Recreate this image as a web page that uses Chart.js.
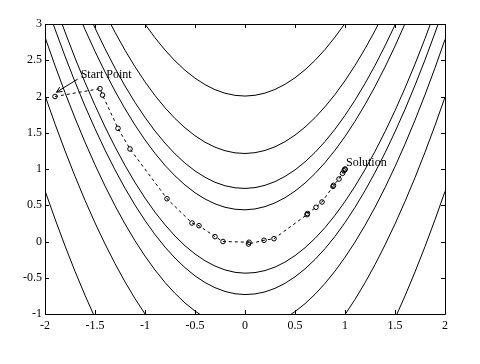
<!DOCTYPE html>
<html>
<head>
<meta charset="utf-8">
<script src="https://cdn.jsdelivr.net/npm/chart.js@4.4.1/dist/chart.umd.min.js"></script>
<style>
html,body{margin:0;padding:0;background:#fff;}
canvas{display:block;}
</style>
</head>
<body>
<canvas id="c" width="480" height="364"></canvas>
<script>
// x positions at which the contour curves were read
const xGrid = [-2,-1.9,-1.8,-1.7,-1.6,-1.5,-1.4,-1.3,-1.2,-1.1,-1,-0.9,-0.8,-0.7,-0.6,-0.5,-0.4,-0.3,-0.2,-0.1,0,0.1,0.2,0.3,0.4,0.5,0.6,0.7,0.8,0.9,1,1.1,1.2,1.3,1.4,1.5,1.6,1.7,1.8,1.9,2];

// contour curves (y values at xGrid), levels e^3 ... e^7
const c3Upper = [4.333,3.952,3.590,3.248,2.925,2.622,2.339,2.075,1.831,1.606,1.401,1.216,1.050,0.905,0.779,0.672,0.586,0.519,0.472,0.445,0.437,0.449,0.481,0.533,0.604,0.695,0.806,0.937,1.088,1.258,1.448,1.658,1.888,2.137,2.406,2.695,3.004,3.333,3.681,4.049,4.437];
const c3Lower = [3.667,3.268,2.890,2.532,2.195,1.878,1.581,1.305,1.049,0.814,0.599,0.404,0.230,0.075,-0.059,-0.172,-0.266,-0.339,-0.392,-0.425,-0.437,-0.429,-0.401,-0.353,-0.284,-0.195,-0.086,0.043,0.192,0.362,0.552,0.762,0.992,1.243,1.514,1.805,2.116,2.447,2.799,3.171,3.563];
const c4Upper = [4.675,4.290,3.924,3.578,3.252,2.945,2.659,2.392,2.145,1.918,1.711,1.524,1.357,1.209,1.081,0.974,0.886,0.817,0.769,0.741,0.732,0.743,0.775,0.826,0.897,0.987,1.098,1.228,1.379,1.549,1.739,1.949,2.179,2.428,2.698,2.987,3.297,3.626,3.975,4.343,4.732];
const c4Lower = [3.325,2.930,2.556,2.202,1.868,1.555,1.261,0.988,0.735,0.502,0.289,0.096,-0.077,-0.229,-0.361,-0.474,-0.566,-0.637,-0.689,-0.721,-0.732,-0.723,-0.695,-0.646,-0.577,-0.487,-0.378,-0.248,-0.099,0.071,0.261,0.471,0.701,0.952,1.222,1.513,1.823,2.154,2.505,2.877,3.268];
const c5Upper = [5.181,4.793,4.426,4.078,3.750,3.442,3.154,2.886,2.638,2.410,2.202,2.013,1.845,1.696,1.568,1.459,1.370,1.301,1.252,1.223,1.214,1.225,1.256,1.306,1.377,1.467,1.578,1.708,1.858,2.028,2.218,2.428,2.658,2.908,3.178,3.467,3.777,4.106,4.456,4.825,5.214];
const c5Lower = [2.819,2.427,2.054,1.702,1.370,1.058,0.766,0.494,0.242,0.010,-0.202,-0.393,-0.565,-0.716,-0.848,-0.959,-1.050,-1.121,-1.172,-1.203,-1.214,-1.205,-1.176,-1.126,-1.057,-0.967,-0.858,-0.728,-0.578,-0.408,-0.218,-0.008,0.222,0.472,0.742,1.033,1.343,1.674,2.024,2.395,2.786];
const c6Upper = [5.986,5.598,5.229,4.880,4.552,4.243,3.954,3.685,3.437,3.208,2.999,2.810,2.641,2.491,2.362,2.253,2.164,2.094,2.045,2.016,2.006,2.017,2.047,2.097,2.168,2.258,2.368,2.498,2.648,2.819,3.009,3.219,3.449,3.699,3.968,4.258,4.568,4.897,5.247,5.617,6.006];
const c6Lower = [2.014,1.622,1.251,0.900,0.568,0.257,-0.034,-0.305,-0.557,-0.788,-0.999,-1.190,-1.361,-1.511,-1.642,-1.753,-1.844,-1.914,-1.965,-1.996,-2.006,-1.997,-1.967,-1.917,-1.848,-1.758,-1.648,-1.518,-1.368,-1.199,-1.009,-0.799,-0.569,-0.319,-0.048,0.242,0.552,0.881,1.231,1.601,1.991];
const c7Lower = [0.702,0.311,-0.060,-0.411,-0.741,-1.052,-1.343,-1.614,-1.864,-2.095,-2.306,-2.496,-2.667,-2.817,-2.948,-3.058,-3.149,-3.219,-3.269,-3.300,-3.310,-3.300,-3.271,-3.221,-3.151,-3.061,-2.951,-2.821,-2.671,-2.501,-2.312,-2.101,-1.871,-1.621,-1.351,-1.061,-0.751,-0.420,-0.070,0.301,0.691];

// optimization path (iterates)
const pathX = [-1.9,-1.45,-1.425,-1.27,-1.15,-0.78,-0.53,-0.46,-0.30,-0.22,0.04,0.035,0.19,0.29,0.62,0.625,0.71,0.77,0.88,0.885,0.94,0.975,0.99,1.0,1.0];
const pathY = [2.0,2.108,2.02,1.561,1.276,0.59,0.255,0.218,0.067,0.0,-0.01,-0.035,0.017,0.039,0.37,0.385,0.472,0.545,0.76,0.775,0.862,0.94,0.975,0.995,1.0];

// tick labels
const xTicks = [-2,-1.5,-1,-0.5,0,0.5,1,1.5,2];
const yTicks = [-1,-0.5,0,0.5,1,1.5,2,2.5,3];

const contours = [c3Upper,c3Lower,c4Upper,c4Lower,c5Upper,c5Lower,c6Upper,c6Lower,c7Lower];
const toPts = (xs, ys) => xs.map((x, i) => ({x: x, y: ys[i]}));

const datasets = contours.map(ys => ({
  data: toPts(xGrid, ys),
  showLine: true,
  borderColor: '#000',
  borderWidth: 1,
  pointRadius: 0,
  tension: 0,
  fill: false
}));
datasets.push({
  data: toPts(pathX, pathY),
  showLine: true,
  borderColor: '#000',
  borderWidth: 1,
  borderDash: [3, 3],
  pointRadius: 2.3,
  pointBorderWidth: 1,
  pointBorderColor: '#000',
  pointBackgroundColor: 'rgba(0,0,0,0)',
  tension: 0,
  fill: false
});

const FONT = '12px "Liberation Serif", "Times New Roman", serif';

const framePlugin = {
  id: 'frame',
  afterDatasetsDraw(chart) {
    const {ctx, chartArea: a, scales: {x, y}} = chart;
    ctx.save();
    ctx.strokeStyle = '#000';
    ctx.lineWidth = 1;
    ctx.beginPath();
    ctx.rect(Math.round(a.left) + 0.5, Math.round(a.top) + 0.5, Math.round(a.right - a.left), Math.round(a.bottom - a.top));
    ctx.stroke();
    const tl = 4;
    ctx.beginPath();
    xTicks.forEach(v => {
      const px = Math.round(x.getPixelForValue(v)) + 0.5;
      ctx.moveTo(px, a.bottom); ctx.lineTo(px, a.bottom - tl);
      ctx.moveTo(px, a.top); ctx.lineTo(px, a.top + tl);
    });
    yTicks.forEach(v => {
      const py = Math.round(y.getPixelForValue(v)) + 0.5;
      ctx.moveTo(a.left, py); ctx.lineTo(a.left + tl, py);
      ctx.moveTo(a.right, py); ctx.lineTo(a.right - tl, py);
    });
    ctx.stroke();

    // annotations
    ctx.fillStyle = '#000';
    ctx.font = FONT;
    ctx.textBaseline = 'alphabetic';
    ctx.textAlign = 'left';
    ctx.fillText('Start Point', x.getPixelForValue(-1.643), y.getPixelForValue(2.255));
    ctx.fillText('Solution', x.getPixelForValue(1.01), y.getPixelForValue(1.045));

    // arrow to start point
    const x0 = x.getPixelForValue(-1.673), y0 = y.getPixelForValue(2.24);
    const x1 = x.getPixelForValue(-1.885), y1 = y.getPixelForValue(2.06);
    ctx.beginPath();
    ctx.moveTo(x0, y0); ctx.lineTo(x1, y1);
    const ang = Math.atan2(y1 - y0, x1 - x0);
    const hl = 6, hw = 0.45;
    ctx.moveTo(x1, y1); ctx.lineTo(x1 - hl * Math.cos(ang - hw), y1 - hl * Math.sin(ang - hw));
    ctx.moveTo(x1, y1); ctx.lineTo(x1 - hl * Math.cos(ang + hw), y1 - hl * Math.sin(ang + hw));
    ctx.stroke();
    ctx.restore();
  }
};

new Chart(document.getElementById('c'), {
  type: 'scatter',
  data: {datasets: datasets},
  plugins: [framePlugin],
  options: {
    responsive: false,
    animation: false,
    devicePixelRatio: 1,
    layout: {padding: {top: 24, right: 35, left: 0, bottom: 0}},
    plugins: {legend: {display: false}, tooltip: {enabled: false}},
    scales: {
      x: {
        type: 'linear', min: -2, max: 2,
        afterBuildTicks: s => { s.ticks = xTicks.map(v => ({value: v})); },
        afterFit: s => { s.height = 50; },
        grid: {display: false, drawTicks: false},
        border: {display: false},
        ticks: {padding: 5, color: '#000', font: {family: '"Liberation Serif", serif', size: 12}, callback: v => String(v), maxRotation: 0, autoSkip: false}
      },
      y: {
        type: 'linear', min: -1, max: 3,
        afterBuildTicks: s => { s.ticks = yTicks.map(v => ({value: v})); },
        afterFit: s => { s.width = 45; },
        grid: {display: false, drawTicks: false},
        border: {display: false},
        ticks: {padding: 3, color: '#000', font: {family: '"Liberation Serif", serif', size: 12}, callback: v => String(v), autoSkip: false}
      }
    }
  }
});
</script>
</body>
</html>
